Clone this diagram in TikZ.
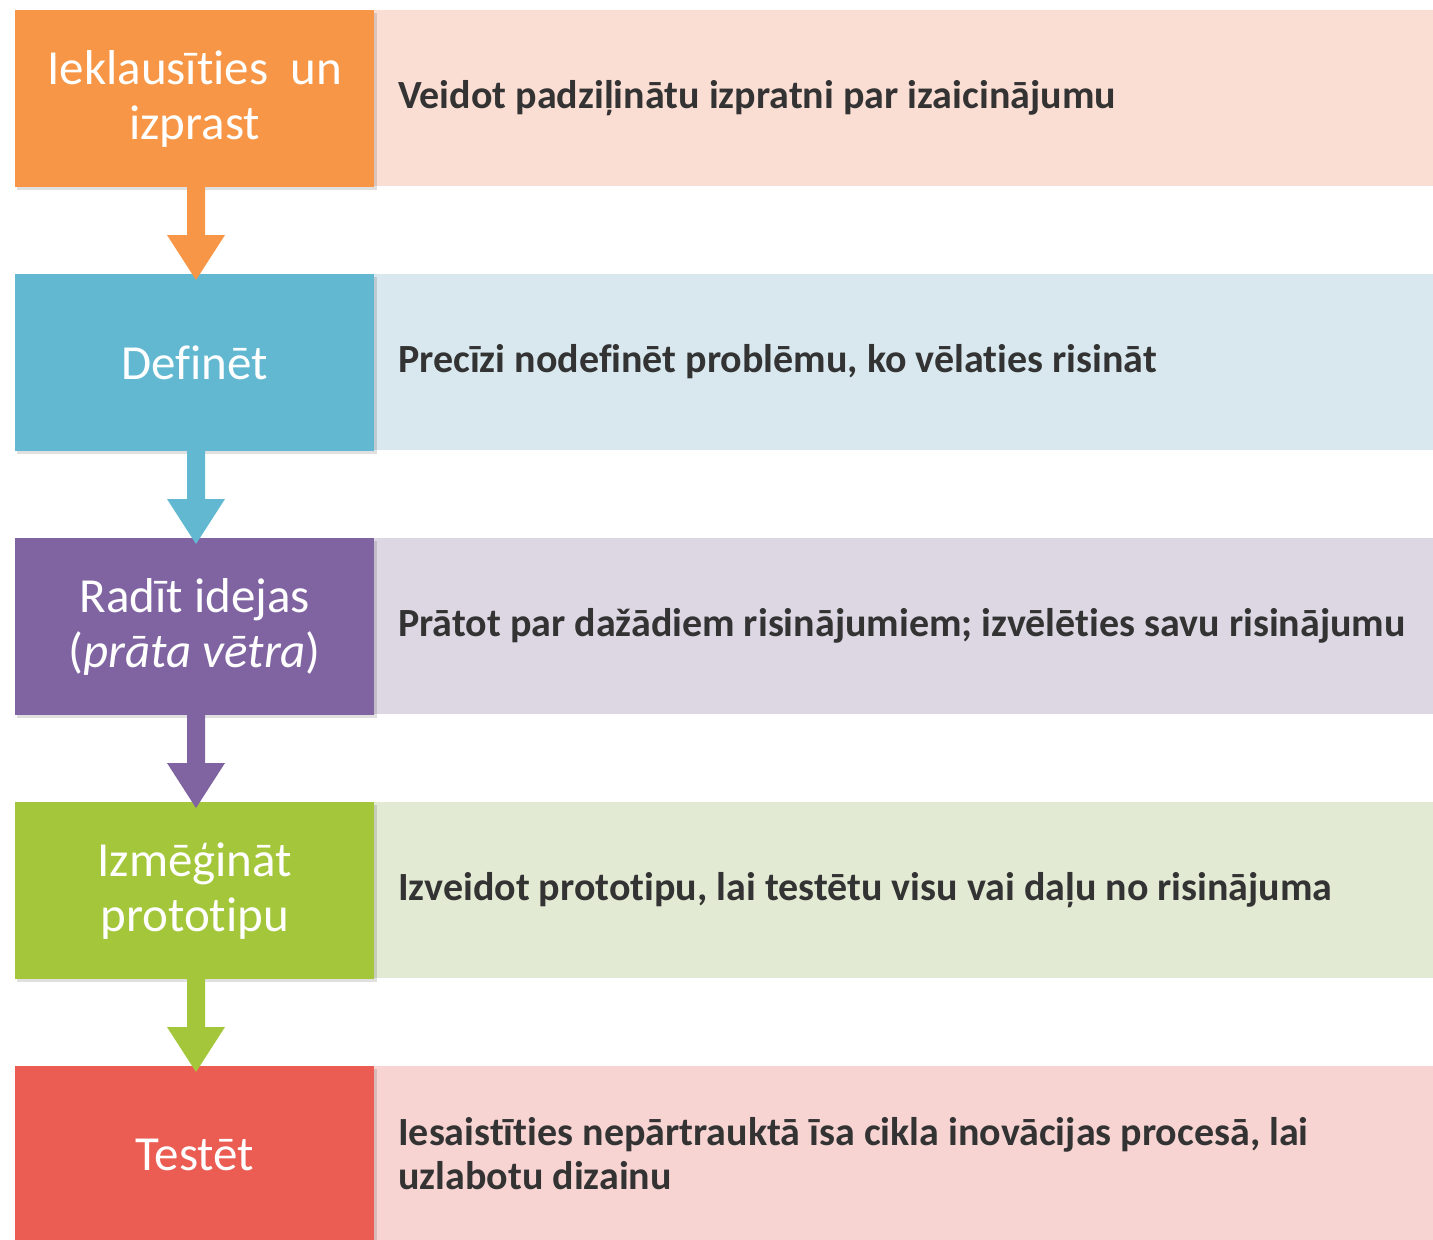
\documentclass[tikz,border=0pt]{standalone}
\usepackage{fontspec}
\setmainfont{Carlito}[Ligatures={NoCommon}]
\definecolor{cO}{HTML}{F79646}\definecolor{lO}{HTML}{FBDED3}
\definecolor{cB}{HTML}{62B8D1}\definecolor{lB}{HTML}{D8E8EE}
\definecolor{cP}{HTML}{8064A2}\definecolor{lP}{HTML}{DCD7E3}
\definecolor{cG}{HTML}{A3C63A}\definecolor{lG}{HTML}{E3EAD3}
\definecolor{cR}{HTML}{EB5C53}\definecolor{lR}{HTML}{F7D4D2}
\definecolor{txt}{HTML}{333333}
\tikzset{
  stepbox/.style={minimum width=359pt,minimum height=177pt,inner sep=0pt,anchor=north west,
    text=white,font=\fontsize{49}{55}\selectfont,align=center},
  desctext/.style={anchor=west,text=txt,font=\bfseries\fontsize{40}{44}\selectfont,align=left,inner sep=0pt},
  shadowbox/.style={fill=black,opacity=0.12},
}
\begin{document}
\begin{tikzpicture}[x=1pt,y=-1pt]
\useasboundingbox (0,0) rectangle (1433,1240);
\foreach \c/\l [count=\i from 0] in {cO/lO,cB/lB,cP/lP,cG/lG,cR/lR}{
  \pgfmathsetmacro{\yy}{10+264*\i}
  \fill[\l] (373,\yy) rectangle (1440,\yy+176);
  \fill[shadowbox] (17,\yy+3) rectangle (377,\yy+180);
  \fill[\c] (15,\yy) rectangle (374,\yy+177);
}
% arrows
\foreach \c [count=\i from 0] in {cO,cB,cP,cG}{
  \pgfmathsetmacro{\yy}{187+264*\i}
  \fill[\c] (187,\yy) -- (205,\yy) -- (205,\yy+48) -- (225,\yy+48) -- (196,\yy+93) -- (167,\yy+48) -- (187,\yy+48) -- cycle;
}
\node[stepbox] (s1) at (15,10) {Ieklausīties\ \ un\\izprast};
\node[stepbox] (s2) at (15,274) {Definēt};
\node[stepbox] (s3) at (15,538) {Radīt idejas\\(\textit{prāta vētra})};
\node[stepbox] (s4) at (15,802) {Izmēģināt\\prototipu};
\node[stepbox] (s5) at (15,1066) {Testēt};
\node[desctext] (d1) at (398,98) {Veidot padziļinātu izpratni par izaicinājumu};
\node[desctext] (d2) at (398,362) {Precīzi nodefinēt problēmu, ko vēlaties risināt};
\node[desctext] (d3) at (398,626) {Prātot par dažādiem risinājumiem; izvēlēties savu risinājumu};
\node[desctext] (d4) at (398,890) {Izveidot prototipu, lai testētu visu vai daļu no risinājuma};
\node[desctext] (d5) at (398,1154) {Iesaistīties nepārtrauktā īsa cikla inovācijas procesā, lai\\uzlabotu dizainu};
\end{tikzpicture}
\end{document}
